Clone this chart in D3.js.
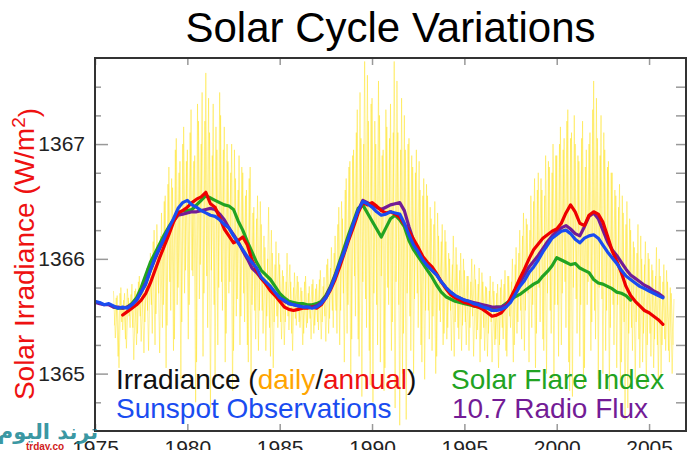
<!DOCTYPE html>
<html><head><meta charset="utf-8">
<script src="https://cdn.jsdelivr.net/npm/d3@7"></script>
<style>
body{margin:0;background:#fff;}
svg{display:block;font-family:"Liberation Sans",Arial,Helvetica,sans-serif;}
</style>
</head><body>
<svg id="chart" width="700" height="450"></svg>
<script>
// ---------- DATA ----------
const title = "Solar Cycle Variations";
const yLabel = "Solar Irradiance (W/m";
const xTicks = [1975, 1980, 1985, 1990, 1995, 2000, 2005];
const yTicks = [1365, 1366, 1367];
const yMinorTicks = [1364.75, 1365, 1365.25, 1365.5, 1365.75, 1366, 1366.25, 1366.5, 1366.75, 1367, 1367.25, 1367.5];

// annual series, quarterly sampling 1975.00 .. 2005.75
const annualYears = d3.range(1975, 2005.76, 0.25);

const sunspot = [
 1365.63,1365.62,1365.60,1365.61, 1365.59,1365.57,1365.58,1365.57, 1365.60,1365.64,1365.71,1365.78,
 1365.90,1366.01,1366.10,1366.18, 1366.27,1366.35,1366.44,1366.49, 1366.51,1366.47,1366.45,1366.42,
 1366.40,1366.38,1366.37,1366.34, 1366.30,1366.27,1366.20,1366.14, 1366.08,1366.02,1365.97,1365.92,
 1365.84,1365.80,1365.76,1365.71, 1365.66,1365.64,1365.61,1365.60, 1365.59,1365.58,1365.58,1365.57,
 1365.58,1365.61,1365.66,1365.74, 1365.84,1365.96,1366.06,1366.19, 1366.31,1366.42,1366.50,1366.48,
 1366.45,1366.41,1366.38,1366.39, 1366.41,1366.40,1366.39,1366.31, 1366.21,1366.12,1366.06,1365.99,
 1365.94,1365.90,1365.86,1365.80, 1365.75,1365.71,1365.68,1365.66, 1365.64,1365.63,1365.61,1365.60,
 1365.58,1365.57,1365.55,1365.55, 1365.56,1365.58,1365.62,1365.69, 1365.76,1365.81,1365.88,1365.93,
 1365.99,1366.06,1366.12,1366.18, 1366.21,1366.24,1366.25,1366.22, 1366.17,1366.14,1366.18,1366.20,
 1366.21,1366.18,1366.12,1366.06, 1366.01,1365.96,1365.90,1365.85, 1365.82,1365.79,1365.76,1365.74,
 1365.72,1365.70,1365.68,1365.66
];

const irradianceAnnual = [
 null,null,null,null, null,null,1365.51,1365.54, 1365.57,1365.60,1365.64,1365.70,
 1365.79,1365.90,1366.01,1366.11, 1366.21,1366.32,1366.40,1366.42, 1366.45,1366.49,1366.52,1366.54,
 1366.58,1366.48,1366.45,1366.36, 1366.26,1366.20,1366.14,1366.16, 1366.19,1366.12,1365.99,1365.90,
 1365.83,1365.78,1365.72,1365.68, 1365.63,1365.58,1365.56,1365.55, 1365.56,1365.57,1365.57,1365.58,
 1365.57,1365.60,1365.66,1365.73, 1365.82,1365.93,1366.05,1366.17, 1366.28,1366.40,1366.49,1366.47,
 1366.49,1366.46,1366.42,1366.40, 1366.41,1366.39,1366.36,1366.30, 1366.24,1366.17,1366.10,1366.02,
 1365.97,1365.93,1365.87,1365.80, 1365.74,1365.69,1365.66,1365.64, 1365.62,1365.61,1365.59,1365.58,
 1365.56,1365.53,1365.50,1365.51, 1365.53,1365.58,1365.66,1365.74, 1365.83,1365.91,1366.00,1366.08,
 1366.13,1366.18,1366.21,1366.24, 1366.26,1366.31,1366.40,1366.47, 1366.41,1366.31,1366.29,1366.38,
 1366.41,1366.39,1366.32,1366.20, 1366.07,1365.98,1365.88,1365.76, 1365.68,1365.63,1365.59,1365.55,
 1365.53,1365.50,1365.47,1365.43
];

const solarFlare = [
 null,null,null,null, 1365.58,1365.57,1365.57,1365.58, 1365.61,1365.66,1365.75,1365.86,
 1365.97,1366.05,1366.13,1366.21, 1366.28,1366.34,1366.40,1366.42, 1366.42,1366.43,1366.47,1366.51,
 1366.55,1366.53,1366.51,1366.49, 1366.47,1366.46,1366.43,1366.33, 1366.25,1366.15,1366.06,1365.97,
 1365.90,1365.86,1365.82,1365.76, 1365.70,1365.66,1365.63,1365.62, 1365.61,1365.61,1365.60,1365.60,
 1365.61,1365.63,1365.68,1365.76, 1365.86,1365.98,1366.10,1366.22, 1366.33,1366.44,1366.47,1366.40,
 1366.33,1366.26,1366.19,1366.27, 1366.35,1366.38,1366.34,1366.28, 1366.16,1366.08,1366.02,1365.96,
 1365.90,1365.84,1365.77,1365.71, 1365.67,1365.65,1365.63,1365.62, 1365.61,1365.60,1365.59,1365.58,
 1365.57,1365.57,1365.57,1365.58, 1365.58,1365.61,1365.64,1365.67, 1365.69,1365.72,1365.75,1365.78,
 1365.80,1365.85,1365.89,1365.94, 1366.01,1365.99,1365.97,1365.95, 1365.96,1365.92,1365.90,1365.88,
 1365.82,1365.79,1365.78,1365.76, 1365.74,1365.71,1365.70,1365.68, 1365.64,null,null,null,
 null,null,null,null
];

const radioFlux = [
 1365.62,1365.61,1365.60,1365.60, 1365.58,1365.58,1365.57,1365.58, 1365.60,1365.64,1365.71,1365.79,
 1365.90,1366.00,1366.09,1366.17, 1366.25,1366.33,1366.38,1366.39, 1366.40,1366.41,1366.41,1366.42,
 1366.43,1366.44,1366.43,1366.39, 1366.34,1366.27,1366.21,1366.15, 1366.07,1366.00,1365.92,1365.88,
 1365.83,1365.79,1365.75,1365.70, 1365.66,1365.63,1365.61,1365.60, 1365.59,1365.58,1365.58,1365.58,
 1365.59,1365.62,1365.67,1365.75, 1365.85,1365.96,1366.07,1366.19, 1366.31,1366.42,1366.51,1366.49,
 1366.47,1366.45,1366.43,1366.45, 1366.47,1366.48,1366.49,1366.42, 1366.28,1366.16,1366.08,1366.00,
 1365.95,1365.90,1365.86,1365.80, 1365.75,1365.71,1365.68,1365.66, 1365.64,1365.63,1365.62,1365.61,
 1365.60,1365.59,1365.58,1365.58, 1365.58,1365.60,1365.64,1365.71, 1365.79,1365.86,1365.93,1365.98,
 1366.03,1366.09,1366.15,1366.20, 1366.24,1366.27,1366.29,1366.26, 1366.22,1366.20,1366.28,1366.37,
 1366.40,1366.35,1366.25,1366.15, 1366.08,1366.03,1365.97,1365.91, 1365.86,1365.83,1365.80,1365.77,
 1365.75,1365.72,1365.70,1365.67
];

// daily irradiance excursions: series A sampled every 0.1 yr from 1976.00,
// series B sampled every 0.1 yr from 1976.05
const dailyStep = 0.1;
const dailyStartA = 1976.0;
const irradianceDailyA = [
 1365.72,1365.31,1365.68,1365.05,1365.75,1365.38,1365.70,1365.22,1365.66,1365.40, // 1976
 1365.78,1365.12,1365.74,1365.35,1365.85,1365.28,1365.80,1365.45,1365.92,1365.20, // 1977
 1366.05,1365.35,1366.25,1365.52,1366.10,1365.18,1366.40,1365.60,1366.55,1365.42, // 1978
 1366.80,1365.55,1366.62,1365.30,1367.05,1365.75,1366.85,1365.45,1367.15,1365.90, // 1979
 1366.95,1365.60,1367.30,1365.85,1366.90,1365.10,1367.20,1365.95,1367.45,1365.70, // 1980
 1367.62,1365.40,1367.10,1365.90,1367.35,1364.95,1366.95,1365.75,1367.25,1365.55, // 1981
 1367.15,1365.35,1366.85,1365.80,1367.00,1365.20,1366.70,1365.65,1366.90,1365.50, // 1982
 1366.75,1365.45,1366.60,1365.10,1366.80,1365.60,1366.45,1365.30,1366.55,1365.55, // 1983
 1366.30,1365.35,1366.10,1365.50,1366.45,1365.15,1366.05,1365.45,1366.15,1365.40, // 1984
 1365.95,1365.30,1365.85,1365.45,1366.05,1365.38,1365.80,1365.20,1365.88,1365.42, // 1985
 1365.80,1365.40,1365.72,1365.35,1365.85,1365.44,1365.76,1365.30,1365.82,1365.42, // 1986
 1365.78,1365.38,1365.90,1365.45,1365.84,1365.28,1366.00,1365.48,1366.10,1365.40, // 1987
 1366.20,1365.35,1366.45,1365.55,1366.35,1365.10,1366.70,1365.60,1366.85,1365.30, // 1988
 1366.95,1365.50,1367.30,1365.15,1367.05,1365.80,1367.72,1365.40,1367.20,1364.90, // 1989
 1367.40,1365.70,1367.00,1365.25,1367.25,1365.85,1366.95,1365.05,1367.15,1365.60, // 1990
 1367.35,1365.45,1367.72,1365.80,1367.10,1364.55,1367.40,1365.35,1366.95,1365.70, // 1991
 1367.05,1365.20,1366.80,1365.65,1366.95,1365.40,1366.60,1365.10,1366.70,1365.55, // 1992
 1366.55,1365.30,1366.35,1365.50,1366.50,1365.15,1366.20,1365.45,1366.30,1365.35, // 1993
 1366.15,1365.40,1366.00,1365.20,1366.20,1365.45,1365.95,1365.30,1366.05,1365.42, // 1994
 1365.90,1365.25,1365.85,1365.40,1366.00,1365.15,1365.82,1365.38,1365.92,1365.30, // 1995
 1365.80,1365.20,1365.75,1365.35,1365.85,1365.10,1365.72,1365.30,1365.78,1365.25, // 1996
 1365.82,1365.30,1365.90,1365.15,1365.85,1365.40,1366.00,1365.25,1366.10,1365.45, // 1997
 1366.25,1365.30,1366.40,1365.55,1366.30,1365.10,1366.55,1365.60,1366.70,1365.35, // 1998
 1366.75,1365.45,1366.60,1365.20,1366.90,1365.70,1366.80,1365.35,1367.00,1365.60, // 1999
 1366.90,1365.15,1367.15,1365.70,1367.05,1365.40,1367.30,1364.85,1367.10,1365.75, // 2000
 1367.00,1365.35,1366.85,1365.60,1367.20,1365.05,1366.95,1365.80,1367.10,1365.45, // 2001
 1367.55,1365.30,1367.05,1365.75,1367.25,1365.00,1366.95,1365.55,1366.85,1365.40, // 2002
 1366.75,1365.25,1366.55,1365.60,1366.65,1365.10,1366.40,1364.60,1366.50,1365.35, // 2003
 1366.25,1365.20,1366.10,1365.45,1366.30,1365.05,1366.00,1365.35,1366.15,1365.25, // 2004
 1366.00,1365.15,1365.90,1365.30,1366.10,1364.95,1365.85,1365.25,1365.95,1365.20, // 2005
 1365.80,1365.10,1365.70,1365.25                                                  // 2006
];
const dailyStartB = 1976.05;
const irradianceDailyB = [
 1365.42,1365.66,1365.15,1365.70,1365.45,1365.64,1365.30,1365.74,1365.50,1365.69, // 1976
 1365.40,1365.72,1365.25,1365.80,1365.50,1365.76,1365.18,1365.88,1365.55,1365.98, // 1977
 1365.60,1366.15,1365.25,1366.30,1365.70,1366.20,1365.40,1366.50,1365.05,1366.65, // 1978
 1365.80,1366.70,1365.20,1366.95,1365.60,1366.75,1364.95,1367.00,1365.70,1366.85, // 1979
 1365.30,1367.10,1365.90,1366.85,1364.75,1367.35,1365.65,1367.00,1365.15,1367.20, // 1980
 1365.85,1367.40,1364.70,1366.90,1365.60,1367.15,1365.25,1367.45,1365.80,1366.95, // 1981
 1365.10,1367.00,1365.70,1366.75,1364.85,1366.95,1365.50,1366.60,1365.25,1366.80, // 1982
 1365.70,1366.55,1365.25,1366.70,1364.95,1366.40,1365.55,1366.35,1365.20,1366.50, // 1983
 1365.55,1366.20,1365.20,1366.00,1365.40,1366.25,1365.05,1365.95,1365.50,1366.05, // 1984
 1365.45,1365.90,1365.25,1365.80,1365.50,1365.95,1365.35,1365.75,1365.48,1365.85, // 1985
 1365.45,1365.75,1365.25,1365.80,1365.40,1365.70,1365.48,1365.78,1365.35,1365.74, // 1986
 1365.45,1365.82,1365.30,1365.76,1365.50,1365.95,1365.35,1365.92,1365.55,1366.05, // 1987
 1365.55,1366.30,1365.25,1366.50,1365.70,1366.60,1365.35,1366.80,1365.00,1366.90, // 1988
 1365.85,1367.10,1365.30,1367.45,1364.80,1367.00,1365.65,1367.60,1365.20,1367.35, // 1989
 1364.75,1367.20,1365.60,1367.55,1365.10,1366.90,1364.85,1367.30,1365.75,1367.05, // 1990
 1365.20,1367.10,1364.70,1367.55,1365.60,1366.95,1365.00,1367.25,1364.60,1367.00, // 1991
 1365.50,1366.90,1365.00,1366.75,1365.70,1366.85,1365.25,1366.55,1364.95,1366.65, // 1992
 1365.55,1366.45,1365.20,1366.30,1365.00,1366.40,1365.55,1366.15,1365.25,1366.25, // 1993
 1365.30,1366.05,1365.55,1365.95,1365.15,1366.10,1365.40,1365.90,1365.20,1366.00, // 1994
 1365.45,1365.85,1365.20,1365.80,1365.50,1365.95,1365.30,1365.78,1365.10,1365.88, // 1995
 1365.40,1365.76,1365.15,1365.72,1365.45,1365.80,1365.25,1365.70,1365.05,1365.75, // 1996
 1365.40,1365.78,1365.20,1365.85,1365.50,1365.80,1365.10,1365.95,1365.35,1366.05, // 1997
 1365.55,1366.20,1365.20,1366.35,1365.70,1366.25,1365.40,1366.50,1365.05,1366.60, // 1998
 1365.75,1366.70,1365.30,1366.55,1365.00,1366.85,1365.55,1366.75,1364.95,1366.90, // 1999
 1365.60,1367.00,1365.25,1366.95,1365.80,1367.20,1365.10,1367.05,1364.80,1367.25, // 2000
 1365.65,1366.90,1365.15,1367.05,1364.90,1366.80,1365.60,1367.00,1365.20,1367.30, // 2001
 1365.55,1367.40,1364.95,1366.90,1365.65,1367.10,1365.20,1366.80,1364.85,1366.75, // 2002
 1365.60,1366.60,1365.05,1366.45,1364.90,1366.55,1365.45,1366.30,1364.70,1366.35, // 2003
 1365.40,1366.15,1364.95,1366.05,1365.30,1366.20,1365.10,1365.95,1364.90,1366.05, // 2004
 1365.35,1365.95,1365.05,1365.85,1365.25,1366.00,1365.00,1365.80,1365.30,1365.90, // 2005
 1365.20,1365.75,1365.00,1365.65                                                  // 2006
];

const colors = {daily:"#ffe31a", annual:"#ee0000", sunspot:"#1a4cf0", flare:"#22a322", radio:"#731c96"};

// ---------- CHART ----------
const svg = d3.select("#chart");
const W = 700, H = 450;
const m = {left:95, right:686, top:58, bottom:431};

const x = d3.scaleLinear().domain([1975, 2007]).range([m.left, m.right]);
const y = d3.scaleLinear().domain([1364.5, 1367.75]).range([m.bottom, m.top]);

svg.append("rect").attr("width", W).attr("height", H).attr("fill", "#fff");

svg.append("defs").append("clipPath").attr("id","clip")
  .append("rect").attr("x", m.left).attr("y", m.top)
  .attr("width", m.right - m.left).attr("height", m.bottom - m.top);

const plot = svg.append("g").attr("clip-path", "url(#clip)");

// daily
function drawDaily(values, start) {
  plot.append("path")
    .datum(values.map((v, i) => ({yr: start + i * dailyStep, v})))
    .attr("fill", "none")
    .attr("stroke", colors.daily)
    .attr("stroke-opacity", 0.45)
    .attr("stroke-width", 1)
    .attr("d", d3.line().x(d => x(d.yr)).y(d => y(d.v)));
}
drawDaily(irradianceDailyA, dailyStartA);
drawDaily(irradianceDailyB, dailyStartB);

function drawSeries(values, color) {
  const data = annualYears.map((yr, i) => ({yr, v: values[i]}));
  plot.append("path")
    .datum(data)
    .attr("fill", "none")
    .attr("stroke", color)
    .attr("stroke-width", 3.2)
    .attr("stroke-linejoin", "round")
    .attr("stroke-linecap", "round")
    .attr("d", d3.line().defined(d => d.v != null).x(d => x(d.yr)).y(d => y(d.v)));
}
drawSeries(solarFlare, colors.flare);
drawSeries(radioFlux, colors.radio);
drawSeries(irradianceAnnual, colors.annual);
drawSeries(sunspot, colors.sunspot);

// axes
const tickColor = "#999";
function style(g) {
  g.select(".domain").remove();
  g.selectAll(".tick line").attr("stroke", tickColor).attr("stroke-width", 1.5);
  g.selectAll("text").attr("fill", "#222").style("font-size", "21px")
   .style("font-family", '"Liberation Sans",Arial,sans-serif');
}
svg.append("g").attr("transform", `translate(${m.left},0)`)
  .call(d3.axisLeft(y).tickValues(yMinorTicks.filter(t => !yTicks.includes(t))).tickSize(-6).tickFormat(""))
  .call(style);
svg.append("g").attr("transform", `translate(${m.left},0)`)
  .call(d3.axisLeft(y).tickValues(yTicks).tickSize(-13).tickPadding(10).tickFormat(d3.format("d")))
  .call(style);
svg.append("g").attr("transform", `translate(${m.right},0)`)
  .call(d3.axisRight(y).tickValues(yMinorTicks).tickSize(-10).tickFormat(""))
  .call(style);
svg.append("g").attr("transform", `translate(0,${m.bottom})`)
  .call(d3.axisBottom(x).tickValues(xTicks).tickSize(-7).tickPadding(9).tickFormat(d3.format("d")))
  .call(style);
svg.append("g").attr("transform", `translate(0,${m.top})`)
  .call(d3.axisTop(x).tickValues(xTicks).tickSize(-7).tickFormat(""))
  .call(style);

// frame
svg.append("rect")
  .attr("x", m.left).attr("y", m.top)
  .attr("width", m.right - m.left).attr("height", m.bottom - m.top)
  .attr("fill", "none").attr("stroke", "#333").attr("stroke-width", 2);

// title
svg.append("text")
  .attr("x", (m.left + m.right) / 2).attr("y", 42)
  .attr("text-anchor", "middle")
  .style("font-size", "42px").attr("fill", "#000")
  .text(title);

// y label
const yl = svg.append("text")
  .attr("transform", "translate(34,254) rotate(-90)")
  .attr("text-anchor", "middle")
  .style("font-size", "28px").attr("fill", "#ee1111");
yl.append("tspan").text(yLabel);
yl.append("tspan").attr("dy", "-0.45em").style("font-size", "19px").text("2");
yl.append("tspan").attr("dy", "0.45em").text(")");

// legend
const lg1 = svg.append("text").attr("x", 116).attr("y", 389).style("font-size", "28px");
lg1.append("tspan").attr("fill", "#111").text("Irradiance (");
lg1.append("tspan").attr("fill", "#ffa500").text("daily");
lg1.append("tspan").attr("fill", "#111").text("/");
lg1.append("tspan").attr("fill", "#ee1111").text("annual");
lg1.append("tspan").attr("fill", "#111").text(")");
svg.append("text").attr("x", 116).attr("y", 418).style("font-size", "28px")
  .attr("fill", colors.sunspot).text("Sunspot Observations");
svg.append("text").attr("x", 451).attr("y", 389).style("font-size", "28px")
  .attr("fill", colors.flare).text("Solar Flare Index");
svg.append("text").attr("x", 452).attr("y", 418).style("font-size", "28px")
  .attr("fill", colors.radio).text("10.7 Radio Flux");

// watermark
svg.append("text").attr("x", 48).attr("y", 439).attr("text-anchor", "middle")
  .style("font-family", '"DejaVu Sans",sans-serif').style("font-size", "21px").style("font-weight", "bold")
  .attr("fill", "#1f8a96").attr("fill-opacity", 0.9).text("ترند اليوم");
svg.append("text").attr("x", 45).attr("y", 450).attr("text-anchor", "middle")
  .style("font-size", "10px").style("font-weight", "bold").attr("fill", "#d02020").text("trday.co");
</script>
</body></html>
